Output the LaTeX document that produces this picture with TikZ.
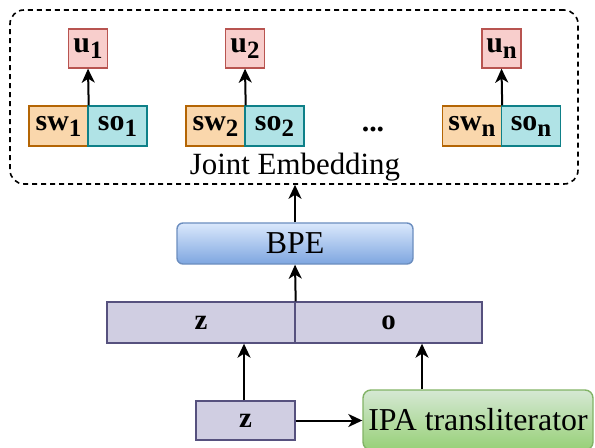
\documentclass[tikz,border=0pt]{standalone}
\usepackage{fontspec}
\setmainfont{Liberation Serif}
\usetikzlibrary{arrows.meta}
\definecolor{uFill}{HTML}{F8CECC}\definecolor{uDraw}{HTML}{B85450}
\definecolor{swFill}{HTML}{FAD7AC}\definecolor{swDraw}{HTML}{B46504}
\definecolor{soFill}{HTML}{B0E3E6}\definecolor{soDraw}{HTML}{0E8088}
\definecolor{zFill}{HTML}{D0CEE2}\definecolor{zDraw}{HTML}{56517E}
\definecolor{bTop}{HTML}{DAE8FC}\definecolor{bBot}{HTML}{7EA6E0}\definecolor{bDraw}{HTML}{6C8EBF}
\definecolor{gTop}{HTML}{D5E8D4}\definecolor{gBot}{HTML}{97D077}\definecolor{gDraw}{HTML}{82B366}
\newcommand\sbx[1]{\raisebox{-6bp}{\fontsize{25}{25}\selectfont #1}}
\begin{document}
\begin{tikzpicture}[x=1bp,y=-1bp,
  box/.style={draw, line width=1.4bp, inner sep=0pt, minimum height=40bp, font=\fontsize{30}{30}\selectfont\bfseries},
  ubox/.style={box, fill=uFill, draw=uDraw, minimum width=39bp, minimum height=39bp},
  swbox/.style={box, fill=swFill, draw=swDraw, minimum width=59bp},
  sobox/.style={box, fill=soFill, draw=soDraw, minimum width=59bp},
  zbox/.style={box, fill=zFill, draw=zDraw, minimum height=41bp, font=\fontsize{29}{29}\selectfont\bfseries},
  arr/.style={draw, line width=2bp, -{Stealth[length=14bp, width=13bp, inset=4bp]}},
  plain/.style={font=\fontsize{31}{31}\selectfont, inner sep=0pt}]
\useasboundingbox (0,0) rectangle (595,448);
% joint embedding container
\node[draw, dashed, dash pattern=on 5bp off 4bp, line width=1.6bp, rounded corners=14bp,
      minimum width=568bp, minimum height=174bp, inner sep=0pt] (emb) at (294,97) {};
% sub-word / sound pairs
\node[swbox] (sw1) at (58.5,126) {sw\sbx{1}};
\node[sobox] (so1) at (117.5,126) {so\sbx{1}};
\node[swbox] (sw2) at (215.5,126) {sw\sbx{2}};
\node[sobox] (so2) at (274.5,126) {so\sbx{2}};
\node[swbox] (swn) at (472,126) {sw\sbx{n}};
\node[sobox] (son) at (531,126) {so\sbx{n}};
\node[font=\fontsize{30}{30}\selectfont\bfseries, inner sep=0pt] (dots) at (373,130) {...};
% outputs
\node[ubox] (u1) at (88,48.5) {u\sbx{1}};
\node[ubox] (u2) at (245,48.5) {u\sbx{2}};
\node[ubox] (un) at (501.5,48.5) {u\sbx{n}};
\draw[arr] (sw1.north east) -- (u1.south);
\draw[arr] (sw2.north east) -- (u2.south);
\draw[arr] (swn.north east) -- (un.south);
\node[plain, anchor=base] (jl) at (295,175) {Joint Embedding};
% BPE
\node[draw=bDraw, line width=1.4bp, top color=bTop, bottom color=bBot, rounded corners=6bp,
      minimum width=236bp, minimum height=41bp, inner sep=0pt, font=\fontsize{32}{32}\selectfont] (bpe) at (295,243.5) {BPE};
\draw[arr] (bpe.north) -- (emb.south -| bpe.north);
% concatenated bar
\node[zbox, minimum width=188bp] (zl) at (201,322.5) {z};
\node[zbox, minimum width=187bp] (zo) at (388.5,322.5) {o};
\draw[arr] (zl.north east) -- (bpe.south);
% input
\node[zbox, minimum width=99bp, minimum height=39bp] (zb) at (245.5,420.5) {z};
\node[draw=gDraw, line width=1.4bp, top color=gTop, bottom color=gBot, rounded corners=8bp,
      minimum width=230bp, minimum height=60bp, inner sep=0pt, font=\fontsize{32}{32}\selectfont] (ipa) at (478,420) {IPA transliterator};
\coordinate (ipaout) at ([xshift=-56bp]ipa.north);
\draw[arr] ([xshift=-1.5bp]zb.north) -- ([xshift=-1.5bp]zb.north |- zl.south);
\draw[arr] (zb.east) -- (ipa.west |- zb.east);
\draw[arr] (ipaout) -- (ipaout |- zo.south);
\end{tikzpicture}
\end{document}
